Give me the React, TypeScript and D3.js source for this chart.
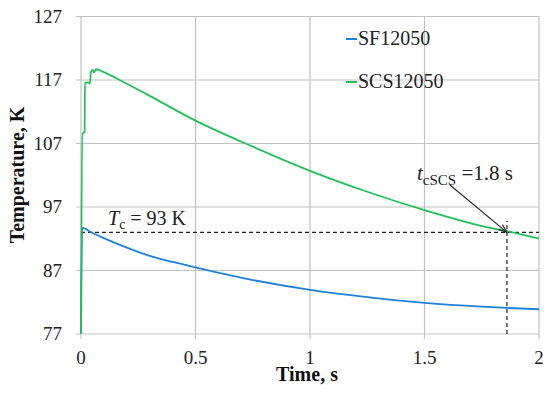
import React from 'react';
import { scaleLinear, line, curveMonotoneX } from 'd3';

// time (s) and temperature (K)
const sfTime = [0, 0.005, 0.05, 0.1, 0.2, 0.3, 0.4, 0.5, 0.75, 1.0, 1.25, 1.5, 1.75, 1.86, 2.0];
const sfTemp = [77, 93.7, 92.9, 92.1, 90.6, 89.3, 88.35, 87.5, 85.5, 83.95, 82.8, 81.9, 81.3, 81.1, 80.9];

const scsTime = [0, 0.005, 0.006, 0.016, 0.017, 0.035, 0.038, 0.044, 0.051, 0.057, 0.066, 0.076, 0.09, 0.2, 0.3, 0.5, 0.75, 1.0, 1.25, 1.5, 1.75, 1.86, 2.0];
const scsTemp = [77, 108.6, 108.6, 108.9, 116.6, 116.6, 116.4, 118.3, 118.6, 118.2, 118.7, 118.6, 118.4, 116.4, 114.5, 110.6, 106.5, 102.7, 99.4, 96.5, 94.0, 93.2, 92.0];

const xTicks = [0, 0.5, 1, 1.5, 2];
const yTicks = [77, 87, 97, 107, 117, 127];

const seriesNames = ['SF12050', 'SCS12050'];
const seriesColors = ['#1f80d8', '#1fc15a'];

const tcValue = 93;
const tcTime = 1.86;

const font = 'Liberation Serif';
const ink = '#222';

const App = () => {
  const xScale = scaleLinear().domain([0, 2]).range([81, 539]);
  const yScale = scaleLinear().domain([77, 127]).range([334, 16.5]);

  const makeLine = line<[number, number]>()
    .x(d => xScale(d[0]))
    .y(d => yScale(d[1]))
    .curve(curveMonotoneX);

  const sfPath = makeLine(sfTime.map((t, i) => [t, sfTemp[i]]));
  const scsPath = makeLine(scsTime.map((t, i) => [t, scsTemp[i]]));

  const yTop = yScale(127);
  const yBottom = yScale(77);
  const xLeft = xScale(0);
  const xRight = xScale(2);

  const crossX = xScale(tcTime);
  const crossY = yScale(tcValue);

  // arrow from annotation text to the crossing point
  const ax0 = 450, ay0 = 185;
  const ang = Math.atan2(crossY - ay0, crossX - ax0);
  const headLen = 9;
  const head = (da: number) => [
    crossX - headLen * Math.cos(ang + da),
    crossY - headLen * Math.sin(ang + da),
  ];
  const [h1x, h1y] = head(0.35);
  const [h2x, h2y] = head(-0.35);

  return (
    <div style={{ position: 'absolute', left: 0, top: 0 }}>
      <svg width={550} height={393} style={{ display: 'block' }}>
        <rect width={550} height={393} fill="white" />

        {/* grid */}
        {xTicks.map(t => (
          <line key={'gx' + t} x1={xScale(t)} x2={xScale(t)} y1={yTop} y2={yBottom + 5} stroke="#c2c2c2" strokeWidth={1.2} />
        ))}
        {yTicks.map(t => (
          <line key={'gy' + t} x1={xLeft - 5} x2={xRight} y1={yScale(t)} y2={yScale(t)} stroke="#c2c2c2" strokeWidth={1.2} />
        ))}

        {/* tick labels */}
        {yTicks.map(t => (
          <text key={'ty' + t} x={62} y={yScale(t) + 6} textAnchor="end" fontSize={19} fontFamily={font} fill={ink}>
            {t}
          </text>
        ))}
        {xTicks.map(t => (
          <text key={'tx' + t} x={xScale(t)} y={364} textAnchor="middle" fontSize={19} fontFamily={font} fill={ink}>
            {t}
          </text>
        ))}

        {/* axis titles */}
        <text x={307} y={381} textAnchor="middle" fontSize={20} fontWeight="bold" fontFamily={font} fill="#111">
          Time, s
        </text>
        <text
          transform={`translate(24, 175) rotate(-90)`}
          textAnchor="middle"
          fontSize={20}
          fontWeight="bold"
          fontFamily={font}
          fill="#111"
        >
          Temperature, K
        </text>

        {/* Tc dashed lines */}
        <line x1={xLeft} x2={xRight} y1={crossY} y2={crossY} stroke={ink} strokeWidth={1.2} strokeDasharray="4,3" />
        <line x1={crossX} x2={crossX} y1={yBottom} y2={yScale(94.8)} stroke={ink} strokeWidth={1.2} strokeDasharray="4,3" />

        {/* series */}
        <path d={sfPath ?? ''} fill="none" stroke={seriesColors[0]} strokeWidth={1.8} />
        <path d={scsPath ?? ''} fill="none" stroke={seriesColors[1]} strokeWidth={1.8} />

        {/* legend */}
        {seriesNames.map((name, i) => (
          <g key={name}>
            <line x1={346} x2={357} y1={39 + i * 43} y2={39 + i * 43} stroke={seriesColors[i]} strokeWidth={2} />
            <text x={358} y={45 + i * 43} fontSize={20} fontFamily={font} fill={ink}>
              {name}
            </text>
          </g>
        ))}

        {/* Tc annotation */}
        <text x={108} y={225} fontSize={20} fontFamily={font} fill={ink}>
          <tspan fontStyle="italic">T</tspan>
          <tspan fontSize={14} dy={4}>c</tspan>
          <tspan dy={-4}> = 93 K</tspan>
        </text>

        {/* tcSCS annotation */}
        <text x={417} y={180} fontSize={21} fontFamily={font} fill={ink}>
          <tspan fontStyle="italic">t</tspan>
          <tspan fontSize={15} dy={5}>cSCS</tspan>
          <tspan dy={-5}> =1.8 s</tspan>
        </text>
        <line x1={ax0} y1={ay0} x2={crossX} y2={crossY} stroke={ink} strokeWidth={1.1} />
        <polyline points={`${h1x},${h1y} ${crossX},${crossY} ${h2x},${h2y}`} fill="none" stroke={ink} strokeWidth={1.1} />
      </svg>
    </div>
  );
};

export default App;
